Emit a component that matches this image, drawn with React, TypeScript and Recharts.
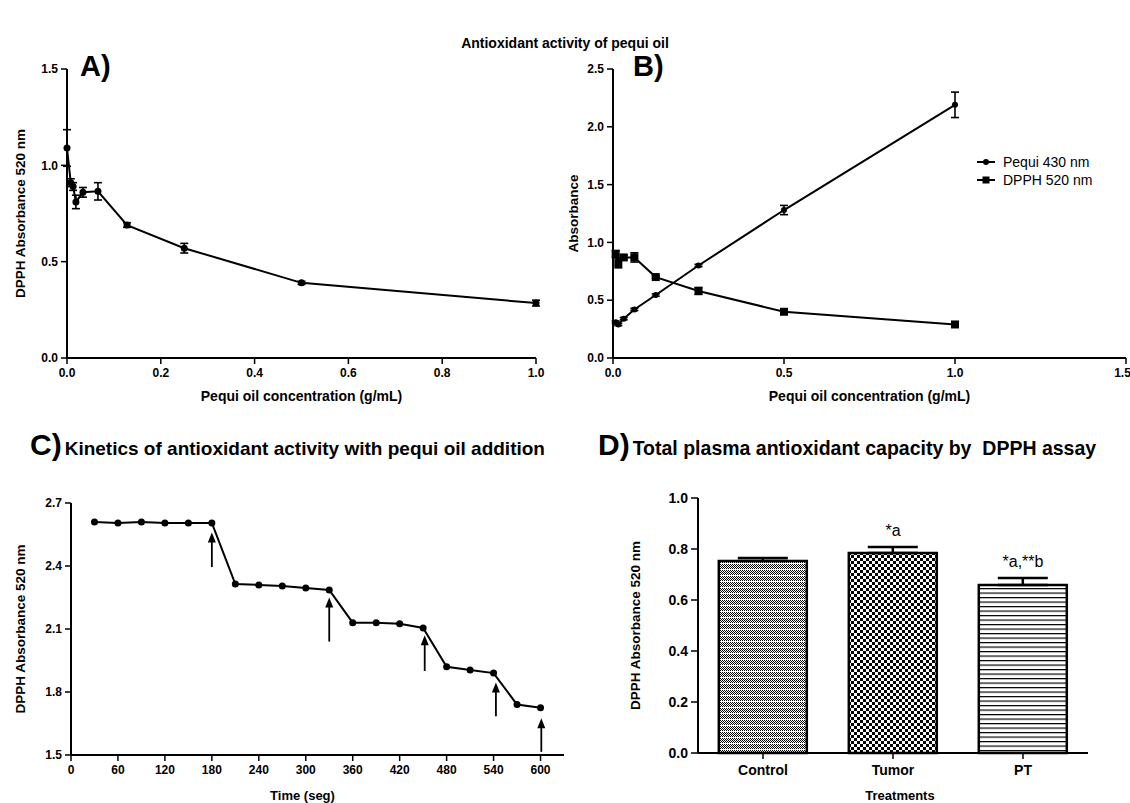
import React from 'react';
import {
  LineChart, Line, BarChart, Bar, Cell, XAxis, YAxis, ErrorBar, Label,
  ReferenceLine, ReferenceDot,
} from 'recharts';

// Panel A: DPPH absorbance vs pequi oil concentration
const concA = [0, 0.008, 0.013, 0.019, 0.034, 0.066, 0.128, 0.25, 0.5, 1.0];
const dpphA = [1.09, 0.91, 0.89, 0.81, 0.86, 0.865, 0.69, 0.57, 0.39, 0.285];
const dpphAErr = [0.095, 0.02, 0.02, 0.035, 0.025, 0.045, 0.012, 0.025, 0.008, 0.015];

// Panel B: pequi (430 nm) and DPPH (520 nm)
const concB = [0.0078, 0.0156, 0.03125, 0.0625, 0.125, 0.25, 0.5, 1.0];
const pequiB = [0.31, 0.29, 0.34, 0.42, 0.545, 0.8, 1.28, 2.19];
const pequiBErr = [0.01, 0.01, 0.01, 0.01, 0.01, 0.01, 0.04, 0.11];
const dpphB = [0.9, 0.82, 0.87, 0.87, 0.7, 0.58, 0.4, 0.29];
const dpphBErr = [0.03, 0.04, 0.02, 0.04, 0.01, 0.03, 0.01, 0.015];

// Panel C: kinetics
const timeC = [30, 60, 90, 120, 150, 180, 210, 240, 270, 300, 330, 360, 390, 420, 450, 480, 510, 540, 570, 600];
const absC = [2.61, 2.605, 2.61, 2.605, 2.605, 2.605, 2.314, 2.31, 2.305, 2.295, 2.286, 2.13, 2.13, 2.125, 2.105, 1.92, 1.905, 1.89, 1.74, 1.725];
const arrowTimes = [180, 330, 452, 543, 601];
const arrowFrom = [2.395, 2.04, 1.9, 1.685, 1.515];
const arrowTo = [2.56, 2.25, 2.07, 1.845, 1.675];

// Panel D: plasma antioxidant capacity
const treatments = ['Control', 'Tumor', 'PT'];
const meansD = [0.753, 0.784, 0.659];
const semD = [0.012, 0.024, 0.027];
const notesD = ['', '*a', '*a,**b'];
const fillsD = ['url(#patCtrl)', 'url(#patTumor)', 'url(#patPT)'];

const ticksA_X = [0, 0.2, 0.4, 0.6, 0.8, 1.0];
const ticksA_Y = [0, 0.5, 1.0, 1.5];
const ticksB_X = [0, 0.5, 1.0, 1.5];
const ticksB_Y = [0, 0.5, 1.0, 1.5, 2.0, 2.5];
const ticksC_X = [0, 60, 120, 180, 240, 300, 360, 420, 480, 540, 600];
const ticksC_Y = [1.5, 1.8, 2.1, 2.4, 2.7];
const ticksD_Y = [0, 0.2, 0.4, 0.6, 0.8, 1.0];

const dataA = concA.map((x, i) => ({ x, y: dpphA[i], err: dpphAErr[i] }));
const dataPequi = concB.map((x, i) => ({ x, y: pequiB[i], err: pequiBErr[i] }));
const dataDpph = concB.map((x, i) => ({ x, y: dpphB[i], err: dpphBErr[i] }));
const dataC = timeC.map((x, i) => ({ x, y: absC[i] }));
const dataD = treatments.map((name, i) => ({ name, mean: meansD[i], err: [0, semD[i]] }));

const FONT = '"Liberation Sans", Arial, sans-serif';
const tick12 = { fontSize: 12, fontWeight: 700, fill: '#000', fontFamily: FONT };
const tick14 = { fontSize: 14, fontWeight: 700, fill: '#000', fontFamily: FONT };
const axisLine = { stroke: '#000', strokeWidth: 2 };
const tickLine = { stroke: '#000', strokeWidth: 1.5 };
const yTitle = { fontSize: 13.5, fontWeight: 700, fill: '#000', fontFamily: FONT };
const xTitle = { fontSize: 14, fontWeight: 700, fill: '#000', fontFamily: FONT };
const f1 = (v: number) => v.toFixed(1);

const SquareDot = (p: any) => {
  if (p.cx == null || p.cy == null) return <g key={p.index} />;
  return <rect key={p.index} x={p.cx - 4} y={p.cy - 4} width={8} height={8} fill="#000" />;
};

const Arrow = (p: any) => {
  const { x1, y1, x2, y2 } = p;
  if (x1 == null) return null;
  const tip = Math.min(y1, y2);
  const tail = Math.max(y1, y2);
  return (
    <g>
      <line x1={x1} y1={tail} x2={x1} y2={tip + 6} stroke="#000" strokeWidth={1.8} />
      <polygon points={`${x1},${tip} ${x1 - 4},${tip + 10} ${x1 + 4},${tip + 10}`} fill="#000" />
    </g>
  );
};

const abs = (left: number, top: number): React.CSSProperties => ({ position: 'absolute', left, top });

export default function App() {
  return (
    <div style={{ position: 'absolute', left: 0, top: 0, width: 1130, height: 803, background: '#fff', overflow: 'hidden', fontFamily: FONT, color: '#000' }}>
      <div style={{ ...abs(0, 35), width: 1130, textAlign: 'center', fontSize: 14, fontWeight: 700, lineHeight: '16px' }}>
        Antioxidant activity of pequi oil
      </div>

      {/* Panel A */}
      <div style={abs(0, 40)}>
        <LineChart width={560} height={370} data={dataA} margin={{ top: 29, right: 24, bottom: 0, left: 0 }}>
          <XAxis dataKey="x" type="number" domain={[0, 1]} ticks={ticksA_X} tickFormatter={f1}
            height={52} tick={tick12} axisLine={axisLine} tickLine={tickLine} tickSize={6} tickMargin={4}>
            <Label value="Pequi oil concentration (g/mL)" position="center" dy={12} style={xTitle} />
          </XAxis>
          <YAxis type="number" domain={[0, 1.5]} ticks={ticksA_Y} tickFormatter={f1}
            width={67} tick={tick12} axisLine={axisLine} tickLine={tickLine} tickSize={6} tickMargin={3}>
            <Label value="DPPH Absorbance 520 nm" angle={-90} position="center" dx={-13} style={yTitle} />
          </YAxis>
          <Line dataKey="y" stroke="#000" strokeWidth={2} isAnimationActive={false}
            dot={{ r: 3.5, fill: '#000', stroke: '#000', strokeWidth: 0 }}>
            <ErrorBar dataKey="err" direction="y" width={4} stroke="#000" strokeWidth={1.6} />
          </Line>
        </LineChart>
      </div>
      <div style={{ ...abs(80, 52), fontSize: 29, fontWeight: 700, lineHeight: '29px' }}>A)</div>

      {/* Panel B */}
      <div style={abs(560, 40)}>
        <LineChart width={570} height={370} margin={{ top: 29, right: 4, bottom: 0, left: 0 }}>
          <XAxis dataKey="x" type="number" domain={[0, 1.5]} ticks={ticksB_X} tickFormatter={f1}
            height={52} tick={tick12} axisLine={axisLine} tickLine={tickLine} tickSize={6} tickMargin={4}
            allowDuplicatedCategory={false}>
            <Label value="Pequi oil concentration (g/mL)" position="center" dy={12} style={xTitle} />
          </XAxis>
          <YAxis type="number" domain={[0, 2.5]} ticks={ticksB_Y} tickFormatter={f1}
            width={53} tick={tick12} axisLine={axisLine} tickLine={tickLine} tickSize={6} tickMargin={3}>
            <Label value="Absorbance" angle={-90} position="center" dx={-13} style={yTitle} />
          </YAxis>
          <Line data={dataPequi} dataKey="y" stroke="#000" strokeWidth={2} isAnimationActive={false}
            dot={{ r: 3, fill: '#000', stroke: '#000', strokeWidth: 0 }}>
            <ErrorBar dataKey="err" direction="y" width={4} stroke="#000" strokeWidth={1.6} />
          </Line>
          <Line data={dataDpph} dataKey="y" stroke="#000" strokeWidth={2} isAnimationActive={false}
            dot={SquareDot}>
            <ErrorBar dataKey="err" direction="y" width={4} stroke="#000" strokeWidth={1.6} />
          </Line>
        </LineChart>
      </div>
      <div style={{ ...abs(633, 52), fontSize: 29, fontWeight: 700, lineHeight: '29px' }}>B)</div>
      <div style={{ ...abs(977, 153), fontSize: 14, lineHeight: '18px' }}>
        <div style={{ display: 'flex', alignItems: 'center' }}>
          <svg width={18} height={10} style={{ marginRight: 8 }}>
            <line x1={0} y1={5} x2={18} y2={5} stroke="#000" strokeWidth={2} />
            <circle cx={9} cy={5} r={3} fill="#000" />
          </svg>
          Pequi 430 nm
        </div>
        <div style={{ display: 'flex', alignItems: 'center' }}>
          <svg width={18} height={10} style={{ marginRight: 8 }}>
            <line x1={0} y1={5} x2={18} y2={5} stroke="#000" strokeWidth={2} />
            <rect x={5.5} y={1.5} width={7} height={7} fill="#000" />
          </svg>
          DPPH 520 nm
        </div>
      </div>

      {/* Panel C */}
      <div style={{ ...abs(30, 430), display: 'flex', alignItems: 'baseline', whiteSpace: 'nowrap' }}>
        <span style={{ fontSize: 30, fontWeight: 700, lineHeight: '30px' }}>C)</span>
        <span style={{ fontSize: 19, fontWeight: 700, marginLeft: 3 }}>Kinetics of antioxidant activity with pequi oil addition</span>
      </div>
      <div style={abs(0, 480)}>
        <LineChart width={570} height={323} data={dataC} margin={{ top: 23, right: 6, bottom: 0, left: 0 }}>
          <XAxis dataKey="x" type="number" domain={[0, 630]} ticks={ticksC_X}
            height={48} tick={tick12} axisLine={axisLine} tickLine={tickLine} tickSize={6} tickMargin={4}>
            <Label value="Time (seg)" position="center" dx={-15} dy={16} style={{ ...xTitle, fontSize: 13 }} />
          </XAxis>
          <YAxis type="number" domain={[1.5, 2.7]} ticks={ticksC_Y} tickFormatter={f1}
            width={71} tick={tick12} axisLine={axisLine} tickLine={tickLine} tickSize={6} tickMargin={3}>
            <Label value="DPPH Absorbance 520 nm" angle={-90} position="center" dx={-15} style={yTitle} />
          </YAxis>
          <Line dataKey="y" stroke="#000" strokeWidth={2} isAnimationActive={false}
            dot={{ r: 3.5, fill: '#000', stroke: '#000', strokeWidth: 0 }} />
          {arrowTimes.map((t, i) => (
            <ReferenceLine key={t} segment={[{ x: t, y: arrowFrom[i] }, { x: t, y: arrowTo[i] }]}
              shape={Arrow} stroke="#000" />
          ))}
        </LineChart>
      </div>

      {/* Panel D */}
      <div style={{ ...abs(598, 430), display: 'flex', alignItems: 'baseline', whiteSpace: 'nowrap' }}>
        <span style={{ fontSize: 30, fontWeight: 700, lineHeight: '30px' }}>D)</span>
        <span style={{ fontSize: 19.5, fontWeight: 700, marginLeft: 3, whiteSpace: 'pre' }}>Total plasma antioxidant capacity by  DPPH assay</span>
      </div>
      <div style={abs(620, 480)}>
        <BarChart width={510} height={323} data={dataD} margin={{ top: 18, right: 42, bottom: 0, left: 0 }}
          barCategoryGap="16%">
          <defs>
            <pattern id="patCtrl" width={2} height={6} patternUnits="userSpaceOnUse">
              <rect width={2} height={6} fill="#fff" />
              <rect x={0} y={0} width={1} height={1} fill="#000" />
              <rect x={1} y={1} width={1} height={1} fill="#000" />
              <rect x={0} y={2} width={1} height={1} fill="#000" />
              <rect x={1} y={3} width={1} height={1} fill="#000" />
              <rect x={0} y={4} width={1} height={1} fill="#000" />
            </pattern>
            <pattern id="patTumor" width={6} height={6} patternUnits="userSpaceOnUse">
              <rect width={6} height={6} fill="#fff" />
              <rect x={0} y={0} width={3} height={3} fill="#000" />
              <rect x={3} y={3} width={3} height={3} fill="#000" />
            </pattern>
            <pattern id="patPT" width={4} height={4.5} patternUnits="userSpaceOnUse">
              <rect width={4} height={4.5} fill="#fff" />
              <rect x={0} y={0} width={4} height={1.2} fill="#000" />
            </pattern>
          </defs>
          <XAxis dataKey="name" height={50} tick={tick14} axisLine={axisLine} tickLine={tickLine}
            tickSize={6} tickMargin={6}>
            <Label value="Treatments" position="center" dx={7} dy={17} style={{ ...xTitle, fontSize: 13 }} />
          </XAxis>
          <YAxis type="number" domain={[0, 1]} ticks={ticksD_Y} tickFormatter={f1}
            width={78} tick={tick14} axisLine={axisLine} tickLine={tickLine} tickSize={7} tickMargin={3}>
            <Label value="DPPH Absorbance 520 nm" angle={-90} position="center" dx={-24} style={yTitle} />
          </YAxis>
          <Bar dataKey="mean" stroke="#000" strokeWidth={2.5} isAnimationActive={false}>
            {dataD.map((d, i) => <Cell key={d.name} fill={fillsD[i]} />)}
            <ErrorBar dataKey="err" direction="y" width={25} stroke="#000" strokeWidth={2.5} />
          </Bar>
          {treatments.map((t, i) => notesD[i] ? (
            <ReferenceDot key={t} x={t} y={meansD[i] + semD[i]} r={0} stroke="none"
              label={{ value: notesD[i], position: 'top', offset: 11, fill: '#000', fontSize: 16, fontFamily: FONT }} />
          ) : null)}
        </BarChart>
      </div>
    </div>
  );
}
